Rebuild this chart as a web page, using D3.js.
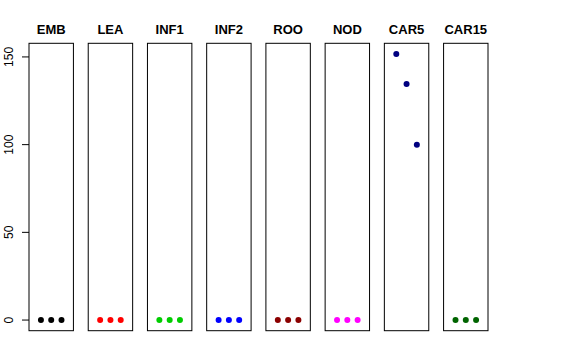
<!DOCTYPE html>
<html>
<head>
<meta charset="utf-8">
<script src="https://cdn.jsdelivr.net/npm/d3@7"></script>
<style>
  body { margin: 0; background: #fff; }
  text { font-family: "Liberation Sans", Arial, sans-serif; }
</style>
</head>
<body>
<div id="chart"></div>
<script>
let width = 576, height = 360;

const groups = ["EMB", "LEA", "INF1", "INF2", "ROO", "NOD", "CAR5", "CAR15"];
const colors = ["#000000", "#FF0000", "#00CD00", "#0000FF", "#8B0000", "#FF00FF", "#000080", "#006400"];
const values = [
  [0, 0, 0],
  [0, 0, 0],
  [0, 0, 0],
  [0, 0, 0],
  [0, 0, 0],
  [0, 0, 0],
  [151.7, 134.5, 99.9],
  [0, 0, 0]
];
const yTicks = [0, 50, 100, 150];

const svg = d3.select("#chart")
  .append("svg")
  .attr("width", width)
  .attr("height", height);

// R style: extend the data range by 4% on each side
let yMax = d3.max(values.flat()), yMin = 0;
let ext = (yMax - yMin) * 0.04;
let y = d3.scaleLinear()
  .domain([yMin - ext, yMax + ext])
  .range([330.7, 43.3]);

let panel = d3.scaleBand()
  .domain(groups)
  .range([29, 488])
  .paddingInner(0.25)
  .paddingOuter(0);

groups.forEach((g, i) => {
  let x0 = panel(g);
  let x = d3.scaleLinear()
    .domain([-0.16, 4.16])
    .range([x0, x0 + panel.bandwidth()]);

  let pg = svg.append("g").attr("class", "panel");

  pg.append("rect")
    .attr("x", x0)
    .attr("y", y.range()[1])
    .attr("width", panel.bandwidth())
    .attr("height", y.range()[0] - y.range()[1])
    .attr("fill", "none")
    .attr("stroke", "#000")
    .attr("stroke-width", 1);

  pg.selectAll("circle")
    .data(values[i])
    .join("circle")
    .attr("cx", (d, j) => x(j + 1))
    .attr("cy", d => y(d))
    .attr("r", 3)
    .attr("fill", colors[i]);

  pg.append("text")
    .attr("x", x0 + panel.bandwidth() / 2)
    .attr("y", 34)
    .attr("text-anchor", "middle")
    .style("font-size", "13px")
    .style("font-weight", "bold")
    .text(g);
});

// y axis on the first panel only
let yAxis = svg.append("g")
  .attr("transform", `translate(${panel(groups[0])},0)`)
  .call(d3.axisLeft(y).tickValues(yTicks).tickSize(7).tickPadding(4));

yAxis.select(".domain").remove();
yAxis.selectAll("text")
  .attr("transform", d => `rotate(-90)`)
  .attr("x", d => -y(d))
  .attr("y", -16)
  .attr("dy", 0)
  .attr("text-anchor", "middle")
  .style("font-size", "12px")
  .style("font-family", "Liberation Sans, Arial, sans-serif")
  .attr("fill", "#000");
yAxis.selectAll(".tick").attr("transform", null);
yAxis.selectAll(".tick line")
  .attr("y1", d => y(d))
  .attr("y2", d => y(d))
  .attr("stroke", "#000");
</script>
</body>
</html>
